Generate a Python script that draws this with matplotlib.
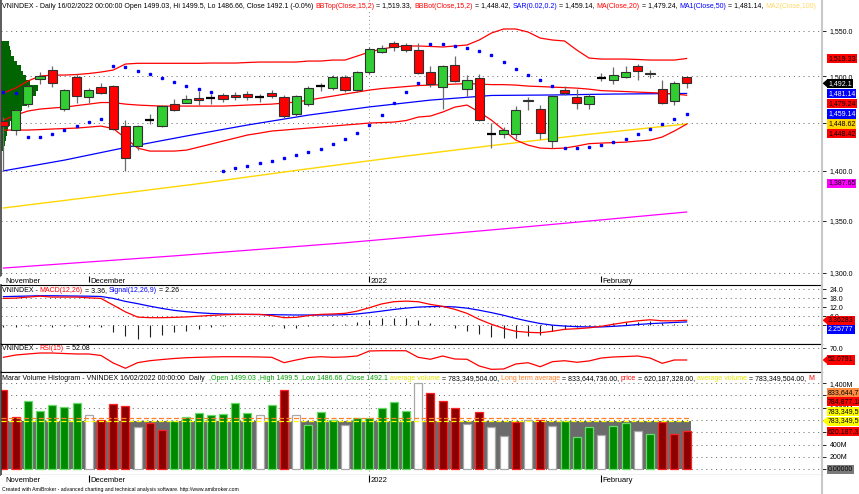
import numpy as np
import matplotlib.pyplot as plt
from matplotlib.patches import Polygon
from matplotlib.lines import Line2D
from matplotlib.ticker import FixedLocator, NullLocator, FuncFormatter

plt.rcParams['font.family'] = ['Liberation Sans', 'DejaVu Sans']

# VNINDEX daily bars, 22/11/2021 .. 16/02/2022 (57 sessions)
opens = [1451.7, 1442.2, 1469.5, 1496.5, 1506.6, 1464.1, 1499.3, 1477.0, 1488.1, 1489.2,
         1446.4, 1425.6, 1452.5, 1446.4, 1469.5, 1471.0, 1476.7, 1476.0, 1479.0, 1480.0,
         1481.0, 1477.0, 1482.0, 1477.0, 1459.0, 1470.0, 1489.0, 1487.0, 1499.0, 1485.0,
         1504.0, 1527.0, 1537.0, 1534.3, 1528.7, 1504.8, 1488.4, 1512.0, 1486.4, 1497.6,
         1439.0, 1438.0, 1438.0, 1473.0, 1465.0, 1431.0, 1484.9, 1477.4, 1469.5, 1498.8,
         1495.7, 1499.2, 1510.6, 1503.9, 1485.7, 1472.6, 1499.03]
highs = [1456.0, 1465.0, 1490.5, 1504.8, 1511.2, 1486.0, 1501.8, 1486.7, 1492.8, 1490.0,
         1452.8, 1447.5, 1458.7, 1468.5, 1475.0, 1480.0, 1484.0, 1481.0, 1482.0, 1483.0,
         1484.0, 1481.0, 1485.0, 1479.0, 1480.0, 1489.0, 1493.0, 1501.0, 1501.0, 1506.0,
         1532.0, 1534.0, 1539.0, 1536.0, 1536.5, 1510.6, 1512.0, 1522.0, 1501.6, 1502.8,
         1449.3, 1445.0, 1467.8, 1477.5, 1468.8, 1479.0, 1489.0, 1485.7, 1481.0, 1503.6,
         1510.3, 1511.0, 1513.4, 1507.0, 1495.7, 1495.0, 1499.5]
lows = [1400.0, 1437.0, 1467.0, 1491.0, 1488.0, 1462.0, 1471.0, 1471.0, 1481.0, 1442.0,
        1400.2, 1421.4, 1448.2, 1445.0, 1462.0, 1471.0, 1468.8, 1470.0, 1472.0, 1474.0,
        1474.0, 1472.0, 1476.0, 1455.0, 1457.0, 1468.0, 1484.0, 1485.0, 1483.0, 1483.0,
        1502.0, 1525.0, 1528.0, 1526.0, 1502.0, 1488.4, 1465.0, 1494.0, 1477.0, 1452.0,
        1424.0, 1433.5, 1432.7, 1463.5, 1432.7, 1424.0, 1479.0, 1464.0, 1464.0, 1495.1,
        1491.7, 1498.0, 1495.7, 1498.0, 1470.0, 1469.0, 1486.66]
closes = [1446.4, 1463.4, 1489.2, 1500.0, 1492.8, 1484.9, 1478.4, 1484.9, 1481.7, 1443.0,
          1412.8, 1446.4, 1452.8, 1467.8, 1463.0, 1475.6, 1474.1, 1476.0, 1475.0, 1477.0,
          1477.0, 1477.0, 1478.0, 1457.0, 1478.0, 1487.0, 1489.0, 1499.0, 1485.0, 1504.0,
          1530.0, 1531.0, 1532.0, 1528.7, 1503.5, 1491.7, 1511.0, 1494.9, 1495.7, 1452.8,
          1438.6, 1442.2, 1463.8, 1474.0, 1439.0, 1478.4, 1481.3, 1471.0, 1478.4, 1498.2,
          1500.9, 1504.8, 1506.0, 1502.4, 1471.0, 1492.8, 1492.1]

bb_top = [1481.6, 1487.0, 1494.6, 1500.0, 1501.1, 1501.1, 1501.7, 1502.8, 1504.4, 1506.6,
          1513.2, 1514.0, 1514.0, 1514.0, 1514.0, 1514.0, 1514.0, 1514.3, 1514.3, 1514.3,
          1514.9, 1515.4, 1515.4, 1515.4, 1515.4, 1516.5, 1516.5, 1517.6, 1517.6, 1522.0,
          1526.5, 1529.8, 1532.1, 1533.2, 1533.2, 1532.7, 1532.1, 1533.2, 1534.3, 1539.9,
          1547.7, 1552.3, 1552.3, 1548.9, 1542.1, 1539.9, 1538.8, 1528.7, 1519.8, 1518.7,
          1518.7, 1518.7, 1518.2, 1517.6, 1517.6, 1517.6, 1519.33]
bb_bot = [1442.2, 1442.2, 1442.2, 1442.7, 1443.3, 1443.8, 1444.3, 1445.3, 1446.4, 1443.8,
          1433.8, 1423.4, 1420.3, 1420.3, 1420.3, 1421.3, 1424.4, 1427.5, 1430.7, 1433.8,
          1437.0, 1439.0, 1441.2, 1442.2, 1443.3, 1444.3, 1445.3, 1446.4, 1447.5, 1448.5,
          1449.6, 1450.1, 1450.6, 1452.2, 1455.9, 1457.0, 1461.2, 1466.5, 1468.7, 1461.2,
          1452.7, 1442.2, 1431.7, 1426.5, 1423.4, 1422.9, 1423.4, 1425.5, 1428.0, 1428.6,
          1429.1, 1429.6, 1430.7, 1431.7, 1434.9, 1441.2, 1448.42]
ma20 = [1452.7, 1458.0, 1462.3, 1464.4, 1465.5, 1466.5, 1468.1, 1469.7, 1471.4, 1471.4,
        1469.7, 1468.7, 1468.1, 1467.6, 1467.6, 1467.6, 1467.6, 1467.6, 1467.6, 1468.1,
        1468.7, 1469.2, 1469.7, 1470.8, 1471.9, 1474.0, 1476.2, 1478.3, 1480.5, 1482.6,
        1484.8, 1486.4, 1487.5, 1488.6, 1489.7, 1490.2, 1490.7, 1491.3, 1491.8, 1491.3,
        1490.7, 1490.7, 1490.2, 1489.1, 1488.6, 1488.0, 1487.5, 1486.9, 1485.8, 1484.2,
        1483.7, 1483.2, 1482.6, 1482.1, 1481.5, 1480.5, 1479.24]
sar = [1483.0, 1481.2, 1434.6, 1435.2, 1438.0, 1442.2, 1446.4, 1450.9, 1453.8, 1511.3,
       1509.5, 1505.8, 1501.9, 1497.5, 1493.5, 1489.5, 1485.9, 1482.6, 1400.1, 1402.9,
       1405.4, 1408.0, 1410.5, 1413.1, 1416.2, 1419.3, 1422.8, 1427.5, 1432.8, 1439.0,
       1447.5, 1458.0, 1470.8, 1483.0, 1492.0, 1535.3, 1535.3, 1533.1, 1530.6, 1527.9,
       1523.1, 1515.0, 1508.0, 1501.4, 1495.6, 1489.5, 1423.7, 1423.7, 1424.7, 1426.5,
       1429.9, 1432.5, 1437.7, 1443.3, 1448.5, 1453.8, 1459.14]

ma50_bars = [0, 5, 10, 15, 20, 25, 30, 35, 40, 45, 50, 56]
ma50 = [1400.0, 1411.0, 1424.0, 1436.0, 1447.5, 1458.0, 1466.7, 1474.0, 1479.0, 1479.5, 1480.5, 1481.14]
ma100_bars = [0, 8, 16, 24, 32, 40, 48, 56]
ma100 = [1362.7, 1374.7, 1387.0, 1400.5, 1413.6, 1426.0, 1437.8, 1448.62]
long_bars = [0, 14, 28, 42, 56]
long_line = [1304.4, 1316.0, 1328.6, 1343.2, 1358.7]
long_last = 1387.65

# volume-at-price profile (left edge)
vp_price = [1536.5, 1530.9, 1525.4, 1519.8, 1514.3, 1508.8, 1503.3, 1497.9, 1492.4, 1487.0, 1481.6,
            1476.3, 1470.9, 1465.6, 1460.3, 1455.0, 1449.7, 1444.4, 1439.2, 1434.0, 1428.7, 1423.5]
vp_volume = [8, 9, 10, 12, 15, 19, 21, 24, 28, 35, 33, 28, 25, 20, 17, 11, 9, 7, 6, 5, 4, 3]

macd = [18.0, 18.2, 18.9, 19.5, 18.9, 18.9, 18.9, 18.4, 18.0, 13.5,
        9.0, 5.5, 5.1, 5.1, 5.3, 5.6, 6.1, 6.6, 7.0, 7.3,
        7.3, 7.3, 6.5, 5.1, 5.3, 6.5, 7.3, 7.6, 8.0, 9.5,
        11.8, 14.3, 15.8, 16.2, 15.8, 14.0, 12.7, 10.7, 8.0, 4.0,
        0.7, -2.0, -4.0, -4.7, -5.0, -4.0, -2.7, -2.3, -1.7, -0.7,
        0.7, 2.0, 3.0, 3.7, 3.0, 3.0, 3.36283]
signal = [19.2, 19.4, 19.6, 19.8, 19.8, 19.7, 19.6, 19.5, 19.3, 18.0,
          16.0, 14.5, 12.8, 11.3, 10.0, 9.1, 8.4, 7.9, 7.6, 7.4,
          7.3, 7.2, 7.1, 7.0, 6.9, 6.9, 6.9, 6.9, 7.1, 7.6,
          8.5, 9.5, 10.6, 11.5, 12.2, 12.5, 12.6, 12.3, 11.5, 10.1,
          8.5, 6.7, 4.6, 2.8, 1.2, 0.1, -0.5, -0.9, -1.1, -1.1,
          -0.7, -0.2, 0.5, 1.1, 1.5, 1.9, 2.25777]
rsi = [56.2, 59.7, 61.3, 62.8, 62.8, 62.0, 61.3, 61.3, 59.0, 47.5,
       39.4, 48.0, 51.0, 52.8, 54.4, 55.6, 56.2, 56.7, 57.1, 57.1,
       57.0, 56.7, 56.2, 48.0, 52.1, 55.9, 57.1, 56.2, 56.7, 58.2,
       65.9, 66.3, 66.3, 66.3, 56.2, 53.2, 58.2, 53.6, 53.2, 42.9,
       37.8, 38.3, 46.0, 47.9, 41.8, 49.5, 51.0, 48.6, 50.6, 55.1,
       56.7, 57.4, 58.2, 55.1, 47.0, 52.1, 52.0791]

# volume in millions, and bar colour class (g = green, r = red, w = white)
volume = [1287, 844, 1114, 951, 1039, 1006, 1081, 876, 800, 1055,
          1027, 692, 747, 638, 789, 844, 919, 881, 898, 1081,
          919, 876, 1039, 1287, 876, 719, 935, 800, 719, 838,
          838, 990, 1097, 951, 1396, 1234, 1114, 990, 730, 935,
          692, 546, 768, 800, 800, 703, 784, 519, 682, 557,
          703, 757, 622, 573, 763, 573, 620.187328]
vol_class = list('rrgggggwrr' 'rwrrgggggg' 'gwgrwgggwg' 'ggggwrrrwr' 'wwrwrwgggw' 'ggwgrrr')
avg_volume = 783.349504
long_avg_volume = 833.644736
other_volume = 784.877184

month_labels = ['November', 'December', '2022', 'February']
month_bars = [0, 7, 30, 49]

price_ticks = [1300, 1350, 1400, 1450, 1500, 1550]
macd_ticks = [0, 6, 12, 18, 24]
rsi_ticks = [70]
vol_ticks = [0, 200, 400, 600, 800, 1000, 1200, 1400]

RED, BLUE, GOLD, MAG = '#FF0000', '#0000FF', '#FFD700', '#FF00FF'

W, H = 859, 494
fig = plt.figure(figsize=(W / 100, H / 100), dpi=100)
fig.patch.set_facecolor('white')


def pane(top, bottom):
    return fig.add_axes([1 / W, 1 - bottom / H, 821 / W, (bottom - top) / H])


ax_p = pane(0, 276.5)
ax_d1 = pane(276.5, 285)
ax_m = pane(285, 343.5)
ax_r = pane(343.5, 372)
ax_v = pane(372, 474.5)
ax_d2 = pane(474.5, 486)

x = np.arange(len(closes))
X0, X1 = -0.2, 67.1
dotted = (0, (1, 4))

for ax in (ax_p, ax_m, ax_r, ax_v):
    ax.set_xlim(X0, X1)
    ax.set_xticks([])
    ax.yaxis.tick_right()
    ax.tick_params(axis='y', direction='out', length=3, width=0.6, pad=2.5,
                   labelsize=5, colors='black')
    for s in ax.spines.values():
        s.set_color('black')
        s.set_linewidth(0.8)
    ax.spines['right'].set_visible(False)
    ax.spines['left'].set_color('#404040')
    ax.spines['left'].set_linewidth(1.2)
    ax.grid(axis='y', linestyle=dotted, color='#606060', linewidth=0.7)
    ax.axvline(30, linestyle=(0, (1, 3)), color='#909090', lw=0.7, zorder=1)
ax_p.spines['top'].set_visible(False)

# ---------------- price pane ----------------
ax_p.set_yscale('log')
ax_p.set_ylim(1296.4, 1585.4)
ax_p.yaxis.set_major_locator(FixedLocator(price_ticks))
ax_p.yaxis.set_minor_locator(NullLocator())
ax_p.yaxis.set_major_formatter(FuncFormatter(lambda v, p: f'{v:,.1f}'))

vp_scale = 3.0 / max(vp_volume)
ax_p.barh(vp_price, np.array(vp_volume) * vp_scale, height=5.6, left=X0,
          color='#006400', lw=0, zorder=1.8)

ax_p.plot(long_bars, long_line, color=MAG, lw=0.9, zorder=2)
ax_p.plot(ma100_bars, ma100, color=GOLD, lw=1.0, zorder=2)
ax_p.plot(ma50_bars, ma50, color=BLUE, lw=0.9, zorder=2)
ax_p.plot(x, bb_top, color=RED, lw=0.9, zorder=2)
ax_p.plot(x, bb_bot, color=RED, lw=0.9, zorder=2)
ax_p.plot(x, ma20, color=RED, lw=0.9, zorder=2)

o = np.array(opens)
c = np.array(closes)
doji = np.abs(c - o) < 1.0
body_col = np.where(c >= o, '#32CD32', '#FF0000')
ax_p.vlines(x, lows, highs, color='#6A6A6A', lw=0.9, zorder=3)
ax_p.bar(x[~doji], np.abs(c - o)[~doji], bottom=np.minimum(o, c)[~doji], width=0.76,
         color=body_col[~doji], edgecolor='#303030', lw=0.8, zorder=4)
ax_p.hlines(c[doji], x[doji] - 0.38, x[doji] + 0.38, color='black', lw=1.6, zorder=4)
ax_p.plot(x, sar, ls='none', marker='s', ms=1.8, color=BLUE, mec=BLUE, zorder=6)

# ---------------- MACD pane ----------------
ax_m.set_ylim(-12.2, 27.0)
ax_m.yaxis.set_major_locator(FixedLocator(macd_ticks))
ax_m.yaxis.set_major_formatter(FuncFormatter(lambda v, p: f'{v:.1f}'))
hist = np.array(macd) - np.array(signal)
ax_m.vlines(x, 0, hist, color='#202020', lw=0.8, zorder=2)
ax_m.plot(x, signal, color=BLUE, lw=0.9, zorder=3)
ax_m.plot(x, macd, color=RED, lw=0.9, zorder=3)

# ---------------- RSI pane ----------------
ax_r.set_ylim(33.7, 77.35)
ax_r.yaxis.set_major_locator(FixedLocator(rsi_ticks))
ax_r.yaxis.set_major_formatter(FuncFormatter(lambda v, p: f'{v:.1f}'))
ax_r.plot(x, rsi, color=RED, lw=0.9, zorder=2)

# ---------------- volume pane ----------------
ax_v.set_ylim(-84.4, 1579.5)
ax_v.yaxis.set_major_locator(FixedLocator(vol_ticks))
ax_v.yaxis.set_major_formatter(FuncFormatter(lambda v, p: f'{v:,.0f}M' if v > 0 else ''))
ax_v.fill_between([X0, len(x) - 0.65], 0, avg_volume, color='#6B6B6B', lw=0, zorder=1.6)
face = {'g': '#008800', 'r': '#8B0000', 'w': '#FFFFFF'}
edge = {'g': '#66DD66', 'r': '#FF2020', 'w': '#A8A8A8'}
ax_v.bar(x, volume, width=0.66, color=[face[k] for k in vol_class],
         edgecolor=[edge[k] for k in vol_class], lw=0.9, zorder=2)
ax_v.hlines(long_avg_volume, X0, len(x) - 0.65, color='#FF7F27', lw=0.9,
            linestyle=(0, (4, 2)), zorder=3)
ax_v.hlines(avg_volume, X0, len(x) - 0.65, color='#FFFF00', lw=0.9,
            linestyle=(0, (4, 2)), zorder=3)

# ---------------- date strips ----------------
for axd in (ax_d1, ax_d2):
    axd.set_xlim(X0, X1)
    axd.set_ylim(0, 1)
    axd.set_xticks([])
    axd.set_yticks([])
    for s in axd.spines.values():
        s.set_visible(False)
    for lab, b in zip(month_labels, month_bars):
        axd.text(b + 0.12, 0.45, lab, fontsize=5.5, va='center', ha='left')
        if b > 0:
            axd.vlines(b, 0.35, 1.0, color='black', lw=0.8)


# ---------------- titles ----------------
def rich_text(ax, x_px, y_px, parts, size=5):
    prev = None
    for s, col in parts:
        kw = dict(color=col, fontsize=size, annotation_clip=False, ha='left',
                  bbox=dict(boxstyle='square,pad=0', fc='white', ec='none'))
        if prev is None:
            prev = ax.annotate(s, xy=(x_px, H - y_px), xycoords='figure pixels', va='center', **kw)
        else:
            prev = ax.annotate(s, xy=(1, 0), xycoords=prev, va='bottom', **kw)


BLK = 'black'
rich_text(ax_p, 2, 6, [
    ('VNINDEX - Daily 16/02/2022 00:00:00 Open 1499.03, Hi 1499.5, Lo 1486.66, '
     'Close 1492.1 (-0.0%) ', BLK),
    ('BBTop(Close,15,2)', RED), (f' = {bb_top[-1]:,.2f}, ', BLK),
    ('BBBot(Close,15,2)', RED), (f' = {bb_bot[-1]:,.2f}, ', BLK),
    ('SAR(0.02,0.2)', BLUE), (f' = {sar[-1]:,.2f}, ', BLK),
    ('MA(Close,20)', RED), (f' = {ma20[-1]:,.2f}, ', BLK),
    ('MA1(Close,50)', BLUE), (f' = {ma50[-1]:,.2f}, ', BLK),
    ('MA2(Close,100)', '#FFD966')])
rich_text(ax_m, 2, 290.5, [
    ('VNINDEX - ', BLK), ('MACD(12,26)', RED), (f' = {macd[-1]:.2f}, ', BLK),
    ('Signal(12,26,9)', BLUE), (f' = {signal[-1]:.2f}', BLK)])
rich_text(ax_r, 2, 348.5, [
    ('VNINDEX - ', BLK), ('RSI(15)', RED), (f' = {rsi[-1]:.2f}', BLK)])
rich_text(ax_v, 2, 378.5, [
    ('Marar Volume Histogram - VNINDEX 16/02/2022 00:00:00  Daily  ', BLK),
    (',Open 1499.03 ,High 1499.5 ,Low 1486.66 ,Close 1492.1 ', '#00A000'),
    ('average volume', '#E8E800'), (f' = {avg_volume * 1e6:,.2f}, ', BLK),
    ('Long term average', '#FF7F27'), (f' = {long_avg_volume * 1e6:,.2f}, ', BLK),
    ('price', RED), (f' = {volume[-1] * 1e6:,.2f}, ', BLK),
    ('average volume', '#E8E800'), (f' = {avg_volume * 1e6:,.2f}, ', BLK),
    ('M', RED)])
fig.text(2 / W, 1 - 489.5 / H,
         'Created with AmiBroker - advanced charting and technical analysis software. '
         'http://www.amibroker.com', fontsize=3.7, va='center', ha='left')


# ---------------- value labels on the scale ----------------
def side_labels(ax, items, upward=False, step=9.6):
    rows = [(ax.transData.transform((0, v))[1], s, fc, tc, arr) for v, s, fc, tc, arr in items]
    rows.sort(key=lambda r: r[0], reverse=not upward)
    last = None
    for y, s, fc, tc, arr in rows:
        if last is not None:
            y = max(y, last + step) if upward else min(y, last - step)
        last = y
        fig.text(828 / W, y / H, s, color=tc, fontsize=5, va='center', ha='left',
                 bbox=dict(boxstyle='square,pad=0.15', fc=fc, ec='none'))
        if arr:
            tri = np.array([[822.5, y], [827.8, y + 4.5], [827.8, y - 4.5]]) / [W, H]
            fig.add_artist(Polygon(tri, closed=True, transform=fig.transFigure, fc=fc, ec='none'))


side_labels(ax_p, [
    (bb_top[-1], f'{bb_top[-1]:,.2f}', RED, BLK, False),
    (closes[-1], f'{closes[-1]:,.1f}', 'black', 'white', True),
    (ma50[-1], f'{ma50[-1]:,.2f}', BLUE, 'white', False),
    (ma20[-1], f'{ma20[-1]:,.2f}', RED, BLK, False),
    (sar[-1], f'{sar[-1]:,.2f}', BLUE, 'white', False),
    (ma100[-1], f'{ma100[-1]:,.2f}', GOLD, BLK, False),
    (bb_bot[-1], f'{bb_bot[-1]:,.2f}', RED, BLK, False),
    (long_last, f'{long_last:,.2f}', MAG, BLK, False)])
side_labels(ax_m, [
    (macd[-1], f'{macd[-1]:.5f}', RED, BLK, True),
    (signal[-1], f'{signal[-1]:.5f}', BLUE, 'white', False)])
side_labels(ax_r, [(rsi[-1], f'{rsi[-1]:.4f}', RED, BLK, True)])
side_labels(ax_v, [
    (volume[-1], f'{volume[-1] * 1e6:,.2f}', RED, BLK, False),
    (avg_volume, f'{avg_volume * 1e6:,.2f}', '#FFFF00', BLK, True),
    (avg_volume, f'{avg_volume * 1e6:,.2f}', '#FFFF00', BLK, False),
    (other_volume, f'{other_volume * 1e6:,.2f}', RED, BLK, False),
    (long_avg_volume, f'{long_avg_volume * 1e6:,.2f}', '#FF8C40', BLK, False)], upward=True)
side_labels(ax_v, [(0, '0.00000', '#7A7A7A', BLK, False)])

fig.add_artist(Line2D([822 / W, 822 / W], [0, 1], transform=fig.transFigure,
                      color='#C8C8C8', lw=1.5))

fig.savefig('out.png', dpi=100, facecolor='white')
